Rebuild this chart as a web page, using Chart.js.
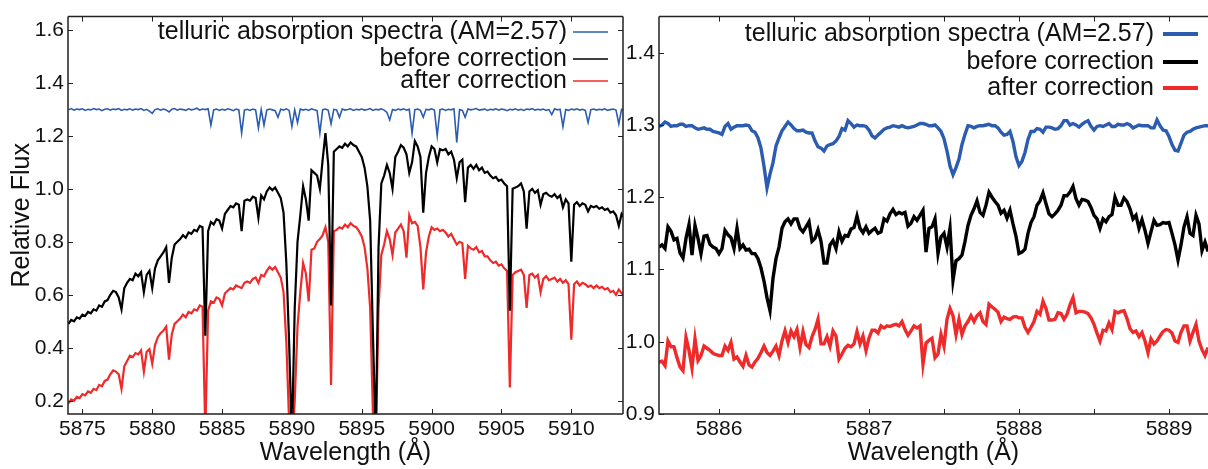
<!DOCTYPE html>
<html>
<head>
<meta charset="utf-8">
<script src="https://cdn.jsdelivr.net/npm/chart.js@4.4.1/dist/chart.umd.min.js"></script>
<style>
    html, body { margin: 0; padding: 0; background: #fff; overflow: hidden; }
    #wrap { position: relative; width: 1208px; height: 469px; }
    canvas { position: absolute; top: 0; }
    #left { left: 0; }
    #right { left: 624px; }
</style>
</head>
<body>
<div id="wrap">
    <canvas id="left" width="625" height="469"></canvas>
    <canvas id="right" width="584" height="469"></canvas>
</div>
<script>
// Left panel: wide range, 0.2 A sampling
const waveL = [
    5874.0, 5874.2, 5874.4, 5874.6, 5874.8, 5875.0, 5875.2, 5875.4, 5875.6, 5875.8,
    5876.0, 5876.2, 5876.4, 5876.6, 5876.8, 5877.0, 5877.2, 5877.4, 5877.6, 5877.8,
    5878.0, 5878.2, 5878.4, 5878.6, 5878.8, 5879.0, 5879.2, 5879.4, 5879.6, 5879.8,
    5880.0, 5880.2, 5880.4, 5880.6, 5880.8, 5881.0, 5881.2, 5881.4, 5881.6, 5881.8,
    5882.0, 5882.2, 5882.4, 5882.6, 5882.8, 5883.0, 5883.2, 5883.4, 5883.6, 5883.8,
    5884.0, 5884.2, 5884.4, 5884.6, 5884.8, 5885.0, 5885.2, 5885.4, 5885.6, 5885.8,
    5886.0, 5886.2, 5886.4, 5886.6, 5886.8, 5887.0, 5887.2, 5887.4, 5887.6, 5887.8,
    5888.0, 5888.2, 5888.4, 5888.6, 5888.8, 5889.0, 5889.2, 5889.4, 5889.6, 5889.8,
    5890.0, 5890.2, 5890.4, 5890.6, 5890.8, 5891.0, 5891.2, 5891.4, 5891.6, 5891.8,
    5892.0, 5892.2, 5892.4, 5892.6, 5892.8, 5893.0, 5893.2, 5893.4, 5893.6, 5893.8,
    5894.0, 5894.2, 5894.4, 5894.6, 5894.8, 5895.0, 5895.2, 5895.4, 5895.6, 5895.8,
    5896.0, 5896.2, 5896.4, 5896.6, 5896.8, 5897.0, 5897.2, 5897.4, 5897.6, 5897.8,
    5898.0, 5898.2, 5898.4, 5898.6, 5898.8, 5899.0, 5899.2, 5899.4, 5899.6, 5899.8,
    5900.0, 5900.2, 5900.4, 5900.6, 5900.8, 5901.0, 5901.2, 5901.4, 5901.6, 5901.8,
    5902.0, 5902.2, 5902.4, 5902.6, 5902.8, 5903.0, 5903.2, 5903.4, 5903.6, 5903.8,
    5904.0, 5904.2, 5904.4, 5904.6, 5904.8, 5905.0, 5905.2, 5905.4, 5905.6, 5905.8,
    5906.0, 5906.2, 5906.4, 5906.6, 5906.8, 5907.0, 5907.2, 5907.4, 5907.6, 5907.8,
    5908.0, 5908.2, 5908.4, 5908.6, 5908.8, 5909.0, 5909.2, 5909.4, 5909.6, 5909.8,
    5910.0, 5910.2, 5910.4, 5910.6, 5910.8, 5911.0, 5911.2, 5911.4, 5911.6, 5911.8,
    5912.0, 5912.2, 5912.4, 5912.6, 5912.8, 5913.0, 5913.2, 5913.4, 5913.6, 5913.8,
]

const tellL = [
    1.298, 1.303, 1.297, 1.301, 1.299, 1.302, 1.296, 1.300, 1.298, 1.303,
    1.299, 1.301, 1.295, 1.300, 1.302, 1.297, 1.301, 1.299, 1.303, 1.296,
    1.300, 1.298, 1.302, 1.297, 1.301, 1.299, 1.303, 1.296, 1.300, 1.293,
    1.285, 1.299, 1.302, 1.297, 1.301, 1.298, 1.290, 1.300, 1.303, 1.297,
    1.301, 1.299, 1.296, 1.302, 1.298, 1.300, 1.304, 1.297, 1.301, 1.299,
    1.302, 1.240, 1.298, 1.301, 1.296, 1.300, 1.297, 1.302, 1.299, 1.295,
    1.301, 1.298, 1.210, 1.297, 1.300, 1.296, 1.301, 1.298, 1.230, 1.299,
    1.240, 1.297, 1.301, 1.298, 1.295, 1.270, 1.300, 1.297, 1.302, 1.296,
    1.235, 1.298, 1.250, 1.301, 1.297, 1.300, 1.296, 1.302, 1.298, 1.295,
    1.210, 1.299, 1.301, 1.296, 1.245, 1.300, 1.298, 1.270, 1.301, 1.297,
    1.299, 1.302, 1.296, 1.300, 1.298, 1.301, 1.297, 1.299, 1.303, 1.296,
    1.300, 1.298, 1.302, 1.297, 1.288, 1.260, 1.299, 1.296, 1.301, 1.298,
    1.302, 1.297, 1.300, 1.210, 1.299, 1.301, 1.296, 1.270, 1.300, 1.298,
    1.302, 1.297, 1.200, 1.299, 1.301, 1.296, 1.300, 1.298, 1.302, 1.175,
    1.299, 1.296, 1.270, 1.301, 1.298, 1.300, 1.303, 1.297, 1.299, 1.301,
    1.296, 1.300, 1.298, 1.302, 1.297, 1.301, 1.299, 1.295, 1.300, 1.298,
    1.302, 1.297, 1.300, 1.296, 1.301, 1.299, 1.303, 1.297, 1.300, 1.298,
    1.301, 1.296, 1.299, 1.280, 1.302, 1.298, 1.300, 1.235, 1.299, 1.296,
    1.301, 1.298, 1.302, 1.297, 1.300, 1.296, 1.250, 1.299, 1.301, 1.297,
    1.300, 1.298, 1.302, 1.296, 1.299, 1.301, 1.297, 1.245, 1.300, 1.298,
]

const beforeL = [
    0.490, 0.505, 0.500, 0.515, 0.510, 0.525, 0.520, 0.535, 0.530, 0.545,
    0.540, 0.560, 0.555, 0.575, 0.580, 0.600, 0.615, 0.610, 0.590, 0.545,
    0.625, 0.645, 0.660, 0.655, 0.680, 0.670, 0.685, 0.610, 0.675, 0.690,
    0.625, 0.700, 0.730, 0.745, 0.760, 0.780, 0.645, 0.740, 0.790, 0.800,
    0.810, 0.825, 0.815, 0.835, 0.830, 0.845, 0.840, 0.860, 0.855, 0.445,
    0.840, 0.875, 0.865, 0.885, 0.880, 0.850, 0.905, 0.920, 0.935, 0.930,
    0.945, 0.940, 0.840, 0.955, 0.960, 0.955, 0.970, 0.965, 0.890, 0.975,
    0.960, 0.990, 1.005, 0.995, 1.005, 0.985, 0.965, 0.910, 0.720, 0.420,
    0.050, 0.550, 0.800, 0.900, 1.010, 0.960, 0.880, 1.070, 1.060, 1.050,
    1.000, 1.110, 1.210, 1.090, 0.560, 1.140, 1.150, 1.160, 1.155, 1.170,
    1.160, 1.175, 1.165, 1.160, 1.140, 1.120, 1.080, 1.010, 0.880, 0.450,
    0.050, 0.780, 1.020, 1.050, 1.090, 1.060, 1.000, 1.120, 1.140, 1.165,
    1.155, 1.130, 1.060, 1.100, 1.180, 1.160, 1.120, 0.910, 1.060, 1.120,
    1.160, 1.150, 1.100, 1.150, 1.145, 1.150, 1.130, 1.140, 1.110, 1.040,
    1.100, 1.110, 0.950, 1.080, 1.090, 1.075, 1.090, 1.070, 1.080, 1.060,
    1.065, 1.050, 1.040, 1.045, 1.030, 1.035, 1.020, 1.010, 0.540, 1.000,
    1.005, 1.010, 1.020, 0.990, 0.850, 0.990, 1.000, 0.985, 0.995, 0.940,
    0.980, 0.985, 0.975, 0.970, 0.980, 0.965, 0.975, 0.930, 0.960, 0.945,
    0.725, 0.940, 0.950, 0.935, 0.945, 0.940, 0.915, 0.935, 0.930, 0.935,
    0.925, 0.930, 0.920, 0.925, 0.910, 0.915, 0.900, 0.860, 0.905, 0.890,
]

const afterL = [
    0.190, 0.205, 0.200, 0.215, 0.210, 0.225, 0.220, 0.235, 0.230, 0.245,
    0.240, 0.260, 0.255, 0.275, 0.280, 0.300, 0.315, 0.310, 0.300, 0.245,
    0.330, 0.350, 0.370, 0.365, 0.380, 0.375, 0.390, 0.310, 0.385, 0.395,
    0.340, 0.410, 0.440, 0.455, 0.465, 0.480, 0.355, 0.450, 0.490, 0.500,
    0.510, 0.525, 0.515, 0.535, 0.530, 0.545, 0.540, 0.560, 0.555, 0.080,
    0.540, 0.575, 0.570, 0.590, 0.585, 0.560, 0.605, 0.615, 0.625, 0.620,
    0.635, 0.630, 0.625, 0.645, 0.650, 0.645, 0.660, 0.665, 0.645, 0.675,
    0.670, 0.690, 0.705, 0.695, 0.705, 0.685, 0.665, 0.610, 0.420, 0.120,
    0.030, 0.200, 0.480, 0.610, 0.720, 0.680, 0.575, 0.770, 0.775, 0.800,
    0.810, 0.825, 0.855, 0.800, 0.260, 0.840, 0.845, 0.855, 0.850, 0.865,
    0.855, 0.870, 0.860, 0.855, 0.840, 0.820, 0.780, 0.700, 0.550, 0.150,
    0.030, 0.550, 0.750, 0.790, 0.840, 0.810, 0.750, 0.835, 0.850, 0.865,
    0.840, 0.740, 0.900, 0.870, 0.875, 0.860, 0.780, 0.620, 0.760, 0.820,
    0.855, 0.845, 0.850, 0.840, 0.845, 0.835, 0.820, 0.830, 0.810, 0.790,
    0.800, 0.795, 0.660, 0.785, 0.775, 0.770, 0.780, 0.760, 0.765, 0.745,
    0.745, 0.730, 0.720, 0.725, 0.710, 0.715, 0.700, 0.690, 0.250, 0.675,
    0.685, 0.690, 0.695, 0.675, 0.550, 0.675, 0.680, 0.665, 0.675, 0.610,
    0.660, 0.670, 0.655, 0.660, 0.665, 0.650, 0.660, 0.645, 0.655, 0.640,
    0.430, 0.640, 0.650, 0.635, 0.645, 0.640, 0.630, 0.635, 0.625, 0.635,
    0.625, 0.630, 0.620, 0.625, 0.610, 0.615, 0.600, 0.620, 0.605, 0.600,
]

// Right panel: zoom 5885.6 - 5889.26 A, 0.02 A sampling
const waveR = [
    5885.60, 5885.62, 5885.64, 5885.66, 5885.68, 5885.70, 5885.72, 5885.74, 5885.76, 5885.78,
    5885.80, 5885.82, 5885.84, 5885.86, 5885.88, 5885.90, 5885.92, 5885.94, 5885.96, 5885.98,
    5886.00, 5886.02, 5886.04, 5886.06, 5886.08, 5886.10, 5886.12, 5886.14, 5886.16, 5886.18,
    5886.20, 5886.22, 5886.24, 5886.26, 5886.28, 5886.30, 5886.32, 5886.34, 5886.36, 5886.38,
    5886.40, 5886.42, 5886.44, 5886.46, 5886.48, 5886.50, 5886.52, 5886.54, 5886.56, 5886.58,
    5886.60, 5886.62, 5886.64, 5886.66, 5886.68, 5886.70, 5886.72, 5886.74, 5886.76, 5886.78,
    5886.80, 5886.82, 5886.84, 5886.86, 5886.88, 5886.90, 5886.92, 5886.94, 5886.96, 5886.98,
    5887.00, 5887.02, 5887.04, 5887.06, 5887.08, 5887.10, 5887.12, 5887.14, 5887.16, 5887.18,
    5887.20, 5887.22, 5887.24, 5887.26, 5887.28, 5887.30, 5887.32, 5887.34, 5887.36, 5887.38,
    5887.40, 5887.42, 5887.44, 5887.46, 5887.48, 5887.50, 5887.52, 5887.54, 5887.56, 5887.58,
    5887.60, 5887.62, 5887.64, 5887.66, 5887.68, 5887.70, 5887.72, 5887.74, 5887.76, 5887.78,
    5887.80, 5887.82, 5887.84, 5887.86, 5887.88, 5887.90, 5887.92, 5887.94, 5887.96, 5887.98,
    5888.00, 5888.02, 5888.04, 5888.06, 5888.08, 5888.10, 5888.12, 5888.14, 5888.16, 5888.18,
    5888.20, 5888.22, 5888.24, 5888.26, 5888.28, 5888.30, 5888.32, 5888.34, 5888.36, 5888.38,
    5888.40, 5888.42, 5888.44, 5888.46, 5888.48, 5888.50, 5888.52, 5888.54, 5888.56, 5888.58,
    5888.60, 5888.62, 5888.64, 5888.66, 5888.68, 5888.70, 5888.72, 5888.74, 5888.76, 5888.78,
    5888.80, 5888.82, 5888.84, 5888.86, 5888.88, 5888.90, 5888.92, 5888.94, 5888.96, 5888.98,
    5889.00, 5889.02, 5889.04, 5889.06, 5889.08, 5889.10, 5889.12, 5889.14, 5889.16, 5889.18,
    5889.20, 5889.22, 5889.24, 5889.26,
]

const tellR = [
    1.298, 1.300, 1.304, 1.302, 1.298, 1.299, 1.299, 1.301, 1.301, 1.298,
    1.299, 1.299, 1.296, 1.294, 1.295, 1.296, 1.294, 1.294, 1.291, 1.290,
    1.289, 1.287, 1.298, 1.302, 1.294, 1.297, 1.299, 1.299, 1.299, 1.300,
    1.299, 1.292, 1.290, 1.282, 1.268, 1.243, 1.213, 1.232, 1.248, 1.271,
    1.282, 1.292, 1.298, 1.304, 1.300, 1.295, 1.292, 1.292, 1.293, 1.290,
    1.289, 1.289, 1.278, 1.270, 1.268, 1.264, 1.271, 1.273, 1.274, 1.278,
    1.284, 1.295, 1.293, 1.306, 1.302, 1.297, 1.300, 1.299, 1.299, 1.298,
    1.293, 1.285, 1.282, 1.286, 1.290, 1.294, 1.296, 1.297, 1.299, 1.298,
    1.297, 1.299, 1.297, 1.296, 1.297, 1.298, 1.300, 1.302, 1.302, 1.301,
    1.299, 1.299, 1.300, 1.296, 1.291, 1.281, 1.264, 1.243, 1.231, 1.241,
    1.253, 1.273, 1.287, 1.299, 1.298, 1.296, 1.298, 1.299, 1.299, 1.300,
    1.301, 1.299, 1.299, 1.296, 1.290, 1.286, 1.287, 1.291, 1.277, 1.256,
    1.244, 1.250, 1.262, 1.280, 1.291, 1.291, 1.295, 1.294, 1.290, 1.297,
    1.297, 1.296, 1.294, 1.295, 1.299, 1.306, 1.306, 1.300, 1.302, 1.300,
    1.297, 1.301, 1.304, 1.306, 1.298, 1.293, 1.298, 1.299, 1.298, 1.300,
    1.302, 1.298, 1.298, 1.301, 1.300, 1.300, 1.302, 1.300, 1.296, 1.298,
    1.300, 1.299, 1.299, 1.299, 1.296, 1.296, 1.307, 1.299, 1.293, 1.292,
    1.284, 1.273, 1.265, 1.264, 1.275, 1.286, 1.290, 1.291, 1.294, 1.296,
    1.297, 1.298, 1.299, 1.299,
]

const beforeR = [
    1.131, 1.134, 1.129, 1.159, 1.153, 1.141, 1.143, 1.123, 1.116, 1.143,
    1.162, 1.120, 1.161, 1.143, 1.122, 1.146, 1.147, 1.135, 1.131, 1.129,
    1.122, 1.129, 1.154, 1.148, 1.144, 1.129, 1.157, 1.129, 1.134, 1.127,
    1.128, 1.122, 1.122, 1.115, 1.102, 1.084, 1.061, 1.043, 1.088, 1.115,
    1.131, 1.157, 1.166, 1.170, 1.163, 1.170, 1.170, 1.157, 1.152, 1.159,
    1.166, 1.139, 1.143, 1.155, 1.139, 1.109, 1.109, 1.134, 1.140, 1.129,
    1.152, 1.139, 1.147, 1.146, 1.156, 1.158, 1.174, 1.157, 1.151, 1.159,
    1.150, 1.154, 1.157, 1.150, 1.152, 1.170, 1.167, 1.177, 1.183, 1.176,
    1.179, 1.177, 1.179, 1.160, 1.164, 1.173, 1.168, 1.175, 1.182, 1.124,
    1.157, 1.159, 1.170, 1.122, 1.145, 1.150, 1.131, 1.157, 1.085, 1.112,
    1.115, 1.120, 1.139, 1.161, 1.175, 1.184, 1.195, 1.179, 1.175, 1.189,
    1.207, 1.200, 1.194, 1.189, 1.178, 1.182, 1.171, 1.182, 1.163, 1.146,
    1.122, 1.124, 1.128, 1.150, 1.165, 1.173, 1.189, 1.195, 1.206, 1.191,
    1.177, 1.173, 1.177, 1.182, 1.189, 1.202, 1.202, 1.207, 1.215, 1.198,
    1.189, 1.197, 1.196, 1.194, 1.186, 1.175, 1.170, 1.157, 1.170, 1.166,
    1.173, 1.176, 1.200, 1.189, 1.189, 1.199, 1.194, 1.184, 1.170, 1.175,
    1.157, 1.169, 1.154, 1.136, 1.152, 1.168, 1.161, 1.162, 1.165, 1.164,
    1.165, 1.150, 1.134, 1.113, 1.134, 1.159, 1.173, 1.150, 1.147, 1.175,
    1.163, 1.126, 1.138, 1.125,
]

const afterR = [
    0.972, 0.973, 0.967, 1.001, 0.993, 0.993, 0.978, 0.965, 0.960, 1.006,
    0.988, 0.964, 1.004, 0.974, 0.981, 0.994, 0.991, 0.988, 0.984, 0.982,
    0.981, 0.981, 0.994, 0.988, 0.999, 0.976, 0.979, 0.972, 0.966, 0.981,
    0.968, 0.965, 0.972, 0.977, 0.985, 0.994, 0.985, 0.981, 0.987, 0.994,
    0.981, 1.001, 1.015, 0.999, 1.015, 1.007, 1.017, 0.992, 1.014, 0.996,
    0.992, 1.007, 1.017, 1.031, 0.997, 0.997, 1.007, 0.994, 1.015, 1.008,
    0.976, 0.983, 0.991, 0.995, 0.993, 0.997, 1.014, 0.997, 1.008, 0.988,
    1.005, 1.016, 1.016, 1.012, 1.022, 1.019, 1.022, 1.021, 1.023, 1.024,
    1.022, 1.028, 1.017, 1.009, 1.015, 1.022, 1.019, 1.022, 0.969, 0.998,
    1.002, 1.005, 0.978, 0.983, 1.010, 0.994, 1.031, 1.046, 1.036, 1.010,
    1.031, 1.010, 1.022, 1.028, 1.036, 1.028, 1.036, 1.040, 1.028, 1.024,
    1.052, 1.048, 1.045, 1.041, 1.028, 1.034, 1.032, 1.031, 1.034, 1.035,
    1.033, 1.033, 1.020, 1.013, 1.020, 1.028, 1.042, 1.038, 1.056, 1.046,
    1.030, 1.030, 1.031, 1.040, 1.039, 1.031, 1.038, 1.051, 1.061, 1.040,
    1.042, 1.042, 1.041, 1.039, 1.033, 1.024, 1.012, 1.001, 1.016, 1.015,
    1.026, 1.017, 1.042, 1.040, 1.042, 1.043, 1.032, 1.018, 1.013, 1.015,
    1.007, 1.013, 1.001, 0.985, 1.004, 0.997, 1.001, 1.008, 1.014, 1.017,
    1.016, 1.012, 1.001, 0.999, 1.013, 1.022, 1.022, 1.001, 1.013, 1.024,
    1.001, 0.989, 0.981, 0.992,
]

const seriesNames = ['telluric absorption spectra (AM=2.57)', 'before correction', 'after correction']
const seriesColors = ['#2b5cb0', '#000000', '#ee2a2a']

Chart.defaults.font.family = "'Liberation Sans', Arial, sans-serif"
Chart.defaults.color = '#111'

const pts = (xs, ys) => xs.map((x, i) => ({ x: x, y: ys[i] }))

// box frame with inward ticks on every side
const frame = {
    id: 'frame',
    afterDatasetsDraw(chart, args, o) {
        const { ctx, chartArea: a, scales } = chart
        const len = 5
        ctx.save()
        ctx.strokeStyle = '#222'
        ctx.lineWidth = 1.5
        ctx.beginPath()
        ctx.moveTo(a.left, a.top)
        ctx.lineTo(a.left, a.bottom)
        ctx.lineTo(a.right, a.bottom)
        ctx.moveTo(a.left, a.top)
        ctx.lineTo(a.right, a.top)
        if (o.right) {
            ctx.moveTo(a.right, a.top)
            ctx.lineTo(a.right, a.bottom)
        }
        ctx.stroke()
        ctx.lineWidth = 1
        ctx.beginPath()
        scales.x.ticks.forEach(t => {
            const px = Math.round(scales.x.getPixelForValue(t.value)) + 0.5
            ctx.moveTo(px, a.bottom)
            ctx.lineTo(px, a.bottom - len)
            ctx.moveTo(px, a.top)
            ctx.lineTo(px, a.top + len)
        })
        scales.y.ticks.forEach(t => {
            const py = Math.round(scales.y.getPixelForValue(t.value)) + 0.5
            ctx.moveTo(a.left, py)
            ctx.lineTo(a.left + len, py)
            if (o.right) {
                ctx.moveTo(a.right, py)
                ctx.lineTo(a.right - len, py)
            }
        })
        ctx.stroke()
        ctx.restore()
    },
}

// legend: right aligned text with the line sample after it
const legendBox = {
    id: 'legendBox',
    afterDraw(chart, args, o) {
        const { ctx } = chart
        ctx.save()
        ctx.font = o.size + "px 'Liberation Sans', Arial, sans-serif"
        ctx.textAlign = 'right'
        ctx.textBaseline = 'middle'
        chart.data.datasets.forEach((ds, i) => {
            const y = o.rows[i]
            ctx.fillStyle = '#111'
            ctx.fillText(ds.label, o.textRight, y)
            ctx.strokeStyle = ds.borderColor
            ctx.lineWidth = o.lineWidth
            ctx.beginPath()
            ctx.moveTo(o.lineX0, y)
            ctx.lineTo(o.lineX1, y)
            ctx.stroke()
        })
        ctx.restore()
    },
}

function makeChart(id, wave, ys, cfg) {
    return new Chart(document.getElementById(id), {
        type: 'line',
        data: {
            datasets: ys.map((y, i) => ({
                label: seriesNames[i],
                data: pts(wave, y),
                borderColor: seriesColors[i],
                borderWidth: cfg.lineWidths[i],
                pointRadius: 0,
                tension: 0,
                clip: 0,
            })),
        },
        options: {
            responsive: false,
            animation: false,
            devicePixelRatio: 1,
            layout: { padding: cfg.padding },
            plugins: {
                legend: { display: false },
                tooltip: { enabled: false },
                frame: { right: cfg.rightBorder },
                legendBox: cfg.legend,
            },
            scales: {
                x: {
                    type: 'linear',
                    min: cfg.xMin,
                    max: cfg.xMax,
                    grid: { display: false, drawTicks: false },
                    border: { display: false },
                    ticks: {
                        stepSize: cfg.xStep,
                        includeBounds: false,
                        autoSkip: false,
                        maxRotation: 0,
                        padding: 3,
                        font: { size: 21 },
                        callback: v => (Math.abs(v - Math.round(v)) < 1e-6 ? String(Math.round(v)) : ''),
                    },
                    title: {
                        display: true,
                        text: 'Wavelength (Å)',
                        font: { size: 25 },
                        padding: { top: 0, bottom: 1 },
                    },
                    afterFit: s => { s.height = 55 },
                },
                y: {
                    min: cfg.yMin,
                    max: cfg.yMax,
                    grid: { display: false, drawTicks: false },
                    border: { display: false },
                    ticks: {
                        stepSize: cfg.yStep,
                        includeBounds: false,
                        padding: 4,
                        font: { size: 21 },
                        callback: v => v.toFixed(1),
                    },
                    title: {
                        display: cfg.yTitle,
                        text: 'Relative Flux',
                        font: { size: 25 },
                        padding: { top: 7, bottom: 0 },
                    },
                    afterFit: s => { s.width = cfg.yWidth },
                },
            },
        },
        plugins: [frame, legendBox],
    })
}

makeChart('left', waveL, [tellL, beforeL, afterL], {
    lineWidths: [1.6, 2.2, 2.2],
    padding: { left: 0, right: 2, top: 14, bottom: 0 },
    rightBorder: true,
    xMin: 5873.97, xMax: 5913.7, xStep: 5,
    yMin: 0.15, yMax: 1.65, yStep: 0.2,
    yTitle: true, yWidth: 68,
    legend: { size: 25, textRight: 567, lineX0: 573, lineX1: 608, rows: [32, 59, 81], lineWidth: 1.5 },
})

makeChart('right', waveR, [tellR, beforeR, afterR], {
    lineWidths: [3.4, 3.4, 3.4],
    padding: { left: 0, right: 0, top: 14, bottom: 0 },
    rightBorder: false,
    xMin: 5885.6, xMax: 5889.26, xStep: 0.5,
    yMin: 0.9, yMax: 1.45, yStep: 0.1,
    yTitle: false, yWidth: 35,
    legend: { size: 25, textRight: 530, lineX0: 539, lineX1: 574, rows: [34, 62, 88], lineWidth: 4 },
})
</script>
</body>
</html>
